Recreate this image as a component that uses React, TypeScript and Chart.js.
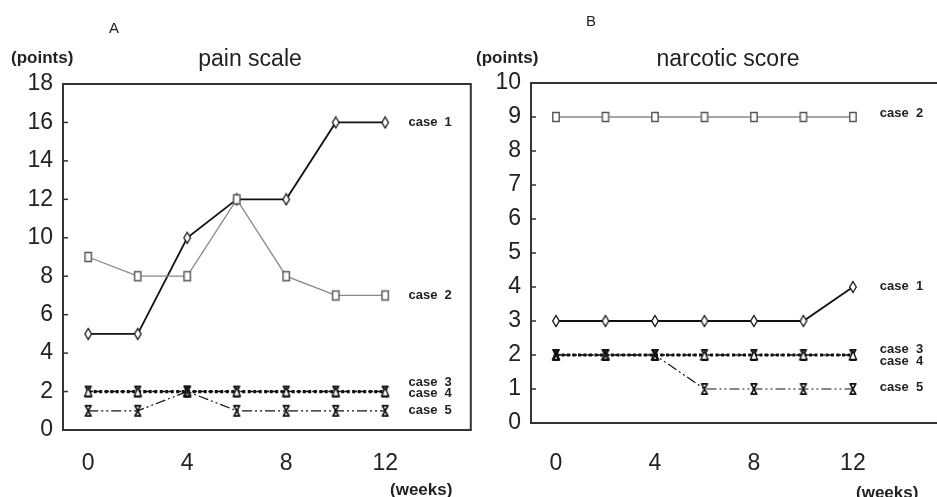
import React, { useEffect, useRef } from "react";
import { Chart, registerables } from "chart.js";

Chart.register(...registerables);

// ---------- data ----------
const weeks = [0, 2, 4, 6, 8, 10, 12];
const xTickValues = [0, 4, 8, 12];
const caseNames = ["case  1", "case  2", "case  3", "case  4", "case  5"];

const painTicks = [0, 2, 4, 6, 8, 10, 12, 14, 16, 18];
const painCase1 = [5, 5, 10, 12, 12, 16, 16];
const painCase2 = [9, 8, 8, 12, 8, 7, 7];
const painCase3 = [2, 2, 2, 2, 2, 2, 2];
const painCase4 = [2, 2, 2, 2, 2, 2, 2];
const painCase5 = [1, 1, 2, 1, 1, 1, 1];

const narcTicks = [0, 1, 2, 3, 4, 5, 6, 7, 8, 9, 10];
const narcCase1 = [3, 3, 3, 3, 3, 3, 4];
const narcCase2 = [9, 9, 9, 9, 9, 9, 9];
const narcCase3 = [2, 2, 2, 2, 2, 2, 2];
const narcCase4 = [2, 2, 2, 2, 2, 2, 2];
const narcCase5 = [2, 2, 2, 1, 1, 1, 1];

const FONT = "'Liberation Sans', Arial, sans-serif";

// ---------- markers ----------
function makeMarker(kind: string): HTMLCanvasElement {
  const c = document.createElement("canvas");
  const w = 10;
  const h = 14;
  c.width = w;
  c.height = h;
  const g = c.getContext("2d")!;
  g.lineJoin = "miter";
  if (kind === "diamond") {
    g.fillStyle = "#fff";
    g.strokeStyle = "#111";
    g.lineWidth = 1.3;
    g.beginPath();
    g.moveTo(5, 1.5);
    g.lineTo(8.3, 7);
    g.lineTo(5, 12.5);
    g.lineTo(1.7, 7);
    g.closePath();
    g.fill();
    g.stroke();
  } else if (kind === "square") {
    g.fillStyle = "#fff";
    g.strokeStyle = "#555";
    g.lineWidth = 1.4;
    g.beginPath();
    g.rect(1.8, 2.5, 6.4, 9);
    g.fill();
    g.stroke();
  } else if (kind === "hourglass") {
    g.strokeStyle = "#111";
    g.lineWidth = 1.7;
    g.beginPath();
    g.moveTo(1.5, 1.8);
    g.lineTo(8.5, 1.8);
    g.moveTo(1.5, 12.2);
    g.lineTo(8.5, 12.2);
    g.moveTo(2.2, 1.8);
    g.lineTo(7.8, 12.2);
    g.moveTo(7.8, 1.8);
    g.lineTo(2.2, 12.2);
    g.stroke();
  } else if (kind === "triangle") {
    g.fillStyle = "#fff";
    g.strokeStyle = "#111";
    g.lineWidth = 1.4;
    g.beginPath();
    g.moveTo(5, 3);
    g.lineTo(8.5, 11.5);
    g.lineTo(1.5, 11.5);
    g.closePath();
    g.fill();
    g.stroke();
  }
  return c;
}

// ---------- plugin: frame box, inward ticks, case labels ----------
const framePlugin = {
  id: "frame",
  afterDraw(chart: any, _args: any, opts: any) {
    const { ctx, chartArea: a, scales } = chart;
    ctx.save();
    ctx.strokeStyle = "#333";
    ctx.lineWidth = 2;
    ctx.strokeRect(a.left, a.top, a.right - a.left, a.bottom - a.top);
    const ys = scales.y;
    ctx.lineWidth = 1.5;
    ys.ticks.forEach((t: any) => {
      const py = ys.getPixelForValue(t.value);
      ctx.beginPath();
      ctx.moveTo(a.left, py);
      ctx.lineTo(a.left + 5, py);
      ctx.stroke();
    });
    const xs = scales.x;
    ctx.font = `bold 13px ${FONT}`;
    ctx.fillStyle = "#222";
    ctx.textAlign = "left";
    ctx.textBaseline = "middle";
    (opts.labels || []).forEach((l: any) => {
      ctx.fillText(l.text, xs.getPixelForValue(l.x), ys.getPixelForValue(l.y));
    });
    ctx.restore();
  },
};

type PanelCfg = {
  series: number[][];
  ticks: number[];
  yMax: number;
  xMin: number;
  xMax: number;
  yAxisWidth: number;
  xAxisHeight: number;
  padTop: number;
  padRight: number;
  xPad: number;
  labelX: number;
  labelY: number[];
};

const styles = [
  { color: "#111", width: 1.8, dash: [] as number[], marker: "diamond" },
  { color: "#888", width: 1.3, dash: [] as number[], marker: "square" },
  { color: "#111", width: 3.2, dash: [3, 2.5], marker: "hourglass" },
  { color: "#111", width: 1.5, dash: [5, 3], marker: "triangle" },
  { color: "#111", width: 1.2, dash: [10, 3, 2, 3, 2, 3], marker: "hourglass" },
];

function Panel({ cfg, left, width }: { cfg: PanelCfg; left: number; width: number }) {
  const ref = useRef<HTMLCanvasElement>(null);
  useEffect(() => {
    const canvas = ref.current!;
    const order = [2, 0, 4, 3, 1];
    const datasets = cfg.series.map((vals, i) => ({
      label: caseNames[i],
      data: weeks.map((w, j) => ({ x: w, y: vals[j] })),
      borderColor: styles[i].color,
      borderWidth: styles[i].width,
      borderDash: styles[i].dash,
      pointStyle: makeMarker(styles[i].marker) as any,
      pointRadius: 4,
      tension: 0,
      fill: false,
      order: order[i],
    }));
    const chart = new Chart(canvas, {
      type: "line",
      data: { datasets },
      options: {
        animation: false,
        responsive: false,
        devicePixelRatio: 1,
        layout: { padding: { left: 0, right: cfg.padRight, top: cfg.padTop, bottom: 0 } },
        plugins: {
          legend: { display: false },
          tooltip: { enabled: false },
          frame: {
            labels: cfg.labelY.map((y, i) => ({ text: caseNames[i], x: cfg.labelX, y })),
          },
        } as any,
        scales: {
          x: {
            type: "linear",
            min: cfg.xMin,
            max: cfg.xMax,
            grid: { display: false, drawTicks: false },
            border: { display: false },
            afterBuildTicks: (s: any) => {
              s.ticks = xTickValues.map((v) => ({ value: v }));
            },
            afterFit: (s: any) => {
              s.height = cfg.xAxisHeight;
            },
            ticks: {
              padding: cfg.xPad,
              color: "#222",
              font: { size: 23, family: FONT },
              maxRotation: 0,
              autoSkip: false,
            },
          },
          y: {
            type: "linear",
            min: 0,
            max: cfg.yMax,
            grid: { display: false, drawTicks: false },
            border: { display: false },
            afterBuildTicks: (s: any) => {
              s.ticks = cfg.ticks.map((v) => ({ value: v }));
            },
            afterFit: (s: any) => {
              s.width = cfg.yAxisWidth;
            },
            ticks: {
              padding: 10,
              color: "#222",
              font: { size: 23, family: FONT },
              autoSkip: false,
            },
          },
        },
      },
      plugins: [framePlugin as any],
    });
    return () => chart.destroy();
  }, [cfg]);
  return (
    <canvas
      ref={ref}
      width={width}
      height={497}
      style={{ position: "absolute", left, top: 0, width, height: 497 }}
    />
  );
}

const painCfg: PanelCfg = {
  series: [painCase1, painCase2, painCase3, painCase4, painCase5],
  ticks: painTicks,
  yMax: 18,
  xMin: -1.02,
  xMax: 15.46,
  yAxisWidth: 63,
  xAxisHeight: 67,
  padTop: 84,
  padRight: 3,
  xPad: 20,
  labelX: 12.94,
  labelY: [16, 7, 2.5, 1.9, 1.0],
};

const narcCfg: PanelCfg = {
  series: [narcCase1, narcCase2, narcCase3, narcCase4, narcCase5],
  ticks: narcTicks,
  yMax: 10,
  xMin: -1.01,
  xMax: 15.52,
  yAxisWidth: 53,
  xAxisHeight: 74,
  padTop: 83,
  padRight: 8,
  xPad: 27,
  labelX: 13.09,
  labelY: [4.03, 9.1, 2.17, 1.81, 1.04],
};

const txt = (extra: React.CSSProperties): React.CSSProperties => ({
  position: "absolute",
  fontFamily: FONT,
  color: "#222",
  lineHeight: 1,
  whiteSpace: "nowrap",
  ...extra,
});

export default function App() {
  return (
    <div
      style={{
        position: "fixed",
        left: 0,
        top: 0,
        width: 937,
        height: 497,
        overflow: "hidden",
        background: "#fff",
      }}
    >
      <Panel cfg={painCfg} left={0} width={478} />
      <Panel cfg={narcCfg} left={478} width={470} />
      <div style={txt({ left: 109, top: 20, fontSize: 15 })}>A</div>
      <div style={txt({ left: 586, top: 13, fontSize: 15 })}>B</div>
      <div style={txt({ left: 250, top: 47, fontSize: 23, transform: "translateX(-50%)" })}>pain scale</div>
      <div style={txt({ left: 728, top: 47, fontSize: 23, transform: "translateX(-50%)" })}>narcotic score</div>
      <div style={txt({ left: 11, top: 49, fontSize: 17, fontWeight: "bold" })}>(points)</div>
      <div style={txt({ left: 476, top: 49, fontSize: 17, fontWeight: "bold" })}>(points)</div>
      <div style={txt({ left: 390, top: 481, fontSize: 17, fontWeight: "bold" })}>(weeks)</div>
      <div style={txt({ left: 856, top: 484, fontSize: 17, fontWeight: "bold" })}>(weeks)</div>
    </div>
  );
}
